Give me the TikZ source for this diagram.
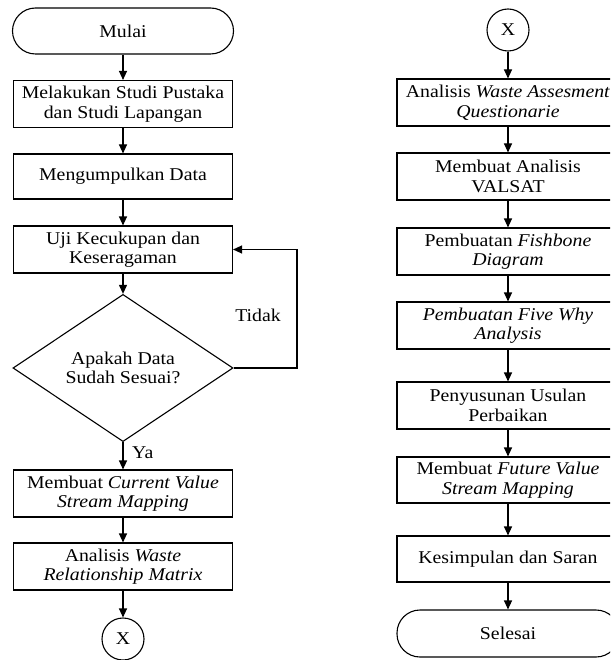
\documentclass[tikz,border=0pt]{standalone}
\usepackage{fontspec}
\setmainfont{Liberation Serif}[FakeStretch=1.1]
\usetikzlibrary{shapes.geometric,arrows.meta}
\begin{document}
\begin{tikzpicture}[x=1pt,y=-1pt,
  every node/.style={font=\fontsize{18}{19.5}\selectfont},
  procbox/.style={draw,line width=1.1pt,rectangle,minimum width=219pt,minimum height=47pt,inner sep=0pt,align=center},
  rbox/.style={procbox,minimum width=222pt},
  conn/.style={draw,line width=1.1pt,circle,minimum size=42pt,inner sep=0pt},
  decis/.style={draw,line width=1.1pt,diamond,minimum width=220pt,minimum height=138pt,inner sep=0pt,align=center},
  arr/.style={line width=1.1pt,-{Triangle[length=9pt,width=8pt]}}
]
\useasboundingbox (0,0) rectangle (610,660);
\clip (0,0) rectangle (610,660);
% left column
\node[draw,line width=1.1pt,rounded corners=23pt,minimum width=221pt,minimum height=46pt,inner sep=0pt] (mulai) at (123,31) {Mulai};
\node[procbox] (b1) at (123,104) {Melakukan Studi Pustaka\\dan Studi Lapangan};
\node[procbox,minimum height=45pt] (b2) at (123,176.5) {Mengumpulkan Data};
\node[procbox] (b3) at (123,249.5) {Uji Kecukupan dan\\Keseragaman};
\node[decis] (dia) at (123,368) {Apakah Data\\Sudah Sesuai?};
\node[procbox] (b4) at (123,493.5) {Membuat \textit{Current Value}\\\textit{Stream Mapping}};
\node[procbox] (b5) at (123,566.5) {Analisis \textit{Waste}\\\textit{Relationship Matrix}};
\node[conn] (x1) at (123,639) {X};
\coordinate (loop) at (297,368);
\node (tidak) at (258,315) {Tidak};
\node[anchor=west,inner sep=0pt] (ya) at (132,453) {Ya};
\draw[arr] (mulai) -- (b1);
\draw[arr] (b1) -- (b2);
\draw[arr] (b2) -- (b3);
\draw[arr] (b3) -- (dia);
\draw[arr] (dia) -- (b4);
\draw[arr] (b4) -- (b5);
\draw[arr] (b5) -- (x1);
\draw[arr] (dia.east) -- (loop) |- (b3.east);
% right column
\node[conn] (x2) at (508,30) {X};
\node[rbox] (r1) at (508,102.5) {Analisis \textit{Waste Assesment}\\\textit{Questionarie}};
\node[rbox] (r2) at (508,176.5) {Membuat Analisis\\VALSAT};
\node[rbox] (r3) at (508,251.5) {Pembuatan \textit{Fishbone}\\\textit{Diagram}};
\node[rbox] (r4) at (508,325.5) {\textit{Pembuatan Five Why}\\\textit{Analysis}};
\node[rbox] (r5) at (508,405.5) {Penyusunan Usulan\\Perbaikan};
\node[rbox,minimum height=46pt] (r6) at (508,480) {Membuat \textit{Future Value}\\\textit{Stream Mapping}};
\node[rbox,minimum height=46pt] (r7) at (508,559) {Kesimpulan dan Saran};
\node[draw,line width=1.1pt,rounded corners=23pt,minimum width=222pt,minimum height=47pt,inner sep=0pt] (selesai) at (508,633.5) {Selesai};
\draw[arr] (x2) -- (r1);
\draw[arr] (r1) -- (r2);
\draw[arr] (r2) -- (r3);
\draw[arr] (r3) -- (r4);
\draw[arr] (r4) -- (r5);
\draw[arr] (r5) -- (r6);
\draw[arr] (r6) -- (r7);
\draw[arr] (r7) -- (selesai);
\end{tikzpicture}
\end{document}
